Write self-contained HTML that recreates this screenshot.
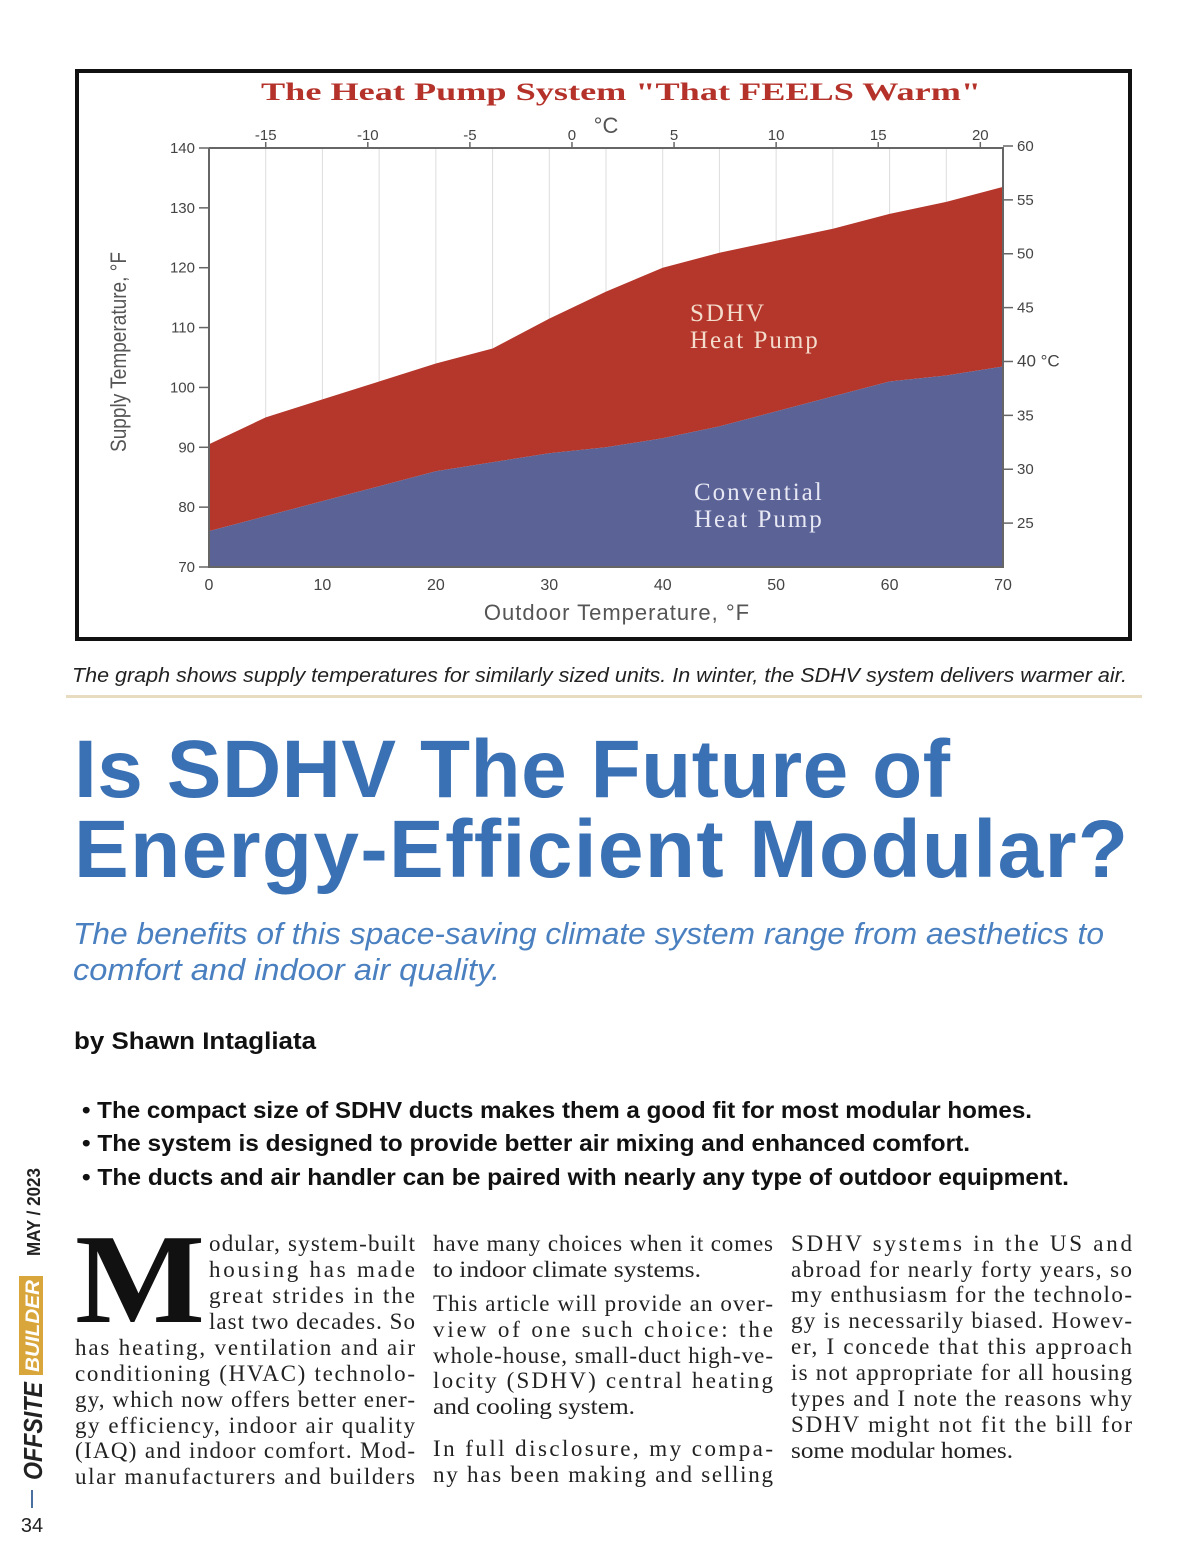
<!DOCTYPE html>
<html><head><meta charset="utf-8"><style>
html,body{margin:0;padding:0;background:#fff;}
svg{display:block;}
.ser{font-family:"Liberation Serif",serif;}
.san{font-family:"Liberation Sans",sans-serif;}
.body{font-family:"Liberation Serif",serif;font-size:23px;fill:#222;}
</style></head><body>
<svg id="page" width="1200" height="1558" viewBox="0 0 1200 1558">
<rect x="0" y="0" width="1200" height="1558" fill="#fff"/>
<g id="chart">
<rect x="77" y="71" width="1053" height="568" fill="#fff" stroke="#111" stroke-width="4"/>
<text x="261" y="100" class="ser" font-size="25" font-weight="bold" fill="#b5322a" textLength="720" lengthAdjust="spacingAndGlyphs">The Heat Pump System "That FEELS Warm"</text>
<text x="606" y="133" text-anchor="middle" class="san" font-size="22" fill="#555">°C</text>
<text x="0" y="0" transform="translate(126,352) rotate(-90)" text-anchor="middle" class="san" font-size="22" fill="#555" textLength="200" lengthAdjust="spacingAndGlyphs">Supply Temperature, °F</text>
<text x="617" y="620" text-anchor="middle" class="san" font-size="22" fill="#555" letter-spacing="1">Outdoor Temperature, °F</text>
<g id="plot"></g>
</g>
<text x="72" y="682" class="san" font-size="20" font-style="italic" fill="#222" textLength="1055" lengthAdjust="spacingAndGlyphs">The graph shows supply temperatures for similarly sized units. In winter, the SDHV system delivers warmer air.</text>
<rect x="66" y="695" width="1076" height="3" fill="#e8dcc0"/>
<text x="74" y="797" class="san" font-size="82" font-weight="bold" fill="#3a70b4" textLength="876">Is SDHV The Future of</text>
<text x="74" y="877" class="san" font-size="82" font-weight="bold" fill="#3a70b4" textLength="1054">Energy-Efficient Modular?</text>
<text x="73" y="944" class="san" font-size="31" font-style="italic" fill="#4a80c0" textLength="1031" lengthAdjust="spacingAndGlyphs">The benefits of this space-saving climate system range from aesthetics to</text>
<text x="73" y="980" class="san" font-size="31" font-style="italic" fill="#4a80c0" textLength="427" lengthAdjust="spacingAndGlyphs">comfort and indoor air quality.</text>
<text x="74" y="1049" class="san" font-size="24" font-weight="bold" fill="#111" textLength="242" lengthAdjust="spacingAndGlyphs">by Shawn Intagliata</text>
<text x="82" y="1118" class="san" font-size="23" font-weight="bold" fill="#111" textLength="950" lengthAdjust="spacingAndGlyphs">• The compact size of SDHV ducts makes them a good fit for most modular homes.</text>
<text x="82" y="1151" class="san" font-size="23" font-weight="bold" fill="#111" textLength="888" lengthAdjust="spacingAndGlyphs">• The system is designed to provide better air mixing and enhanced comfort.</text>
<text x="82" y="1185" class="san" font-size="23" font-weight="bold" fill="#111" textLength="987" lengthAdjust="spacingAndGlyphs">• The ducts and air handler can be paired with nearly any type of outdoor equipment.</text>
<text x="75" y="1322" class="ser" font-size="128" font-weight="bold" fill="#111" textLength="130" lengthAdjust="spacingAndGlyphs">M</text>
<g id="body"></g>
<g>
<text transform="translate(42,1480) rotate(-90)" class="san" font-size="26" font-weight="bold" font-style="italic" fill="#222" textLength="98" lengthAdjust="spacingAndGlyphs">OFFSITE</text>
<rect x="19" y="1276" width="24" height="99" fill="#d9a63c"/>
<text transform="translate(39,1372) rotate(-90)" class="san" font-size="19" font-weight="bold" font-style="italic" fill="#fff" textLength="92" lengthAdjust="spacingAndGlyphs">BUILDER</text>
<text transform="translate(40,1256) rotate(-90)" class="san" font-size="18" font-weight="bold" fill="#222" textLength="88" lengthAdjust="spacingAndGlyphs">MAY / 2023</text>
<rect x="31" y="1490" width="2" height="18" fill="#4a70a0"/>
<text x="32" y="1532" text-anchor="middle" class="san" font-size="20" fill="#222">34</text>
</g>
</svg>
<script>
const NS="http://www.w3.org/2000/svg";
const outdoorF=[0,5,10,15,20,25,30,35,40,45,50,55,60,65,70];
const sdhvSupply=[90.5,95,98,101,104,106.5,111.5,116,120,122.5,124.5,126.5,129,131,133.5];
const convSupply=[76,78.5,81,83.5,86,87.5,89,90,91.5,93.5,96,98.5,101,102,103.5];
const xTicksF=[0,10,20,30,40,50,60,70];
const yTicksF=[70,80,90,100,110,120,130,140];
const topTicksC=[-15,-10,-5,0,5,10,15,20];
const rightTicksC=[60,55,50,45,40,35,30,25];
const X0=209,X1=1003,Y0=567,Y1=148;
const xs=f=>X0+(f-0)/70*(X1-X0);
const ys=v=>Y0-(v-70)/70*(Y0-Y1);
const xc=c=>xs(c*9/5+32);
const yc=c=>ys(c*9/5+32);
const plot=document.getElementById('plot');
function mk(t,a,txt){const e=document.createElementNS(NS,t);for(const k in a)e.setAttribute(k,a[k]);if(txt!==undefined)e.textContent=txt;plot.appendChild(e);return e;}
for(let f=5;f<70;f+=5){const g=mk('line',{x1:xs(f),x2:xs(f),y1:Y1,y2:Y0,stroke:'#ddd','stroke-width':1});

}
function area(top,bot,color,name){let d='M'+xs(outdoorF[0])+','+ys(top[0]);
for(let i=1;i<outdoorF.length;i++)d+='L'+xs(outdoorF[i])+','+ys(top[i]);
for(let i=outdoorF.length-1;i>=0;i--)d+='L'+xs(outdoorF[i])+','+(bot?ys(bot[i]):Y0);
d+='Z';const p=mk('path',{d:d,fill:color});

}
area(sdhvSupply,convSupply,'#b5362b','sdhv-area');
area(convSupply,null,'#5a6296','conventional-area');
const ax=mk('path',{d:`M${X0},${Y1}V${Y0}H${X1}V${Y1}H${X0}`,fill:'none',stroke:'#666','stroke-width':2});


yTicksF.forEach(v=>{mk('line',{x1:X0-10,x2:X0,y1:ys(v),y2:ys(v),stroke:'#666','stroke-width':1.5});
const t=mk('text',{x:X0-14,y:ys(v)+5,'text-anchor':'end','font-family':'Liberation Sans,sans-serif','font-size':15,fill:'#444'},v);

});
xTicksF.forEach(v=>{const t=mk('text',{x:xs(v),y:Y0+23,'text-anchor':'middle','font-family':'Liberation Sans,sans-serif','font-size':16,fill:'#444'},v);

});
topTicksC.forEach(c=>{mk('line',{x1:xc(c),x2:xc(c),y1:Y1-6,y2:Y1,stroke:'#666','stroke-width':1.5});
const t=mk('text',{x:xc(c),y:Y1-8,'text-anchor':'middle','font-family':'Liberation Sans,sans-serif','font-size':15,fill:'#444'},c);

});
rightTicksC.forEach(c=>{mk('line',{x1:X1,x2:X1+10,y1:yc(c)-2,y2:yc(c)-2,stroke:'#666','stroke-width':1.5});
const t=mk('text',{x:X1+14,y:yc(c)+3,'font-family':'Liberation Sans,sans-serif','font-size':c===40?17:15,fill:'#444'},c===40?'40 °C':c);

});
[['SDHV',321],['Heat Pump',348]].forEach(([s,y])=>{const t=mk('text',{x:690,y:y,'font-family':'Liberation Serif,serif','font-size':25,fill:'#f3dccb','letter-spacing':2},s);

});
[['Convential',500],['Heat Pump',527]].forEach(([s,y])=>{const t=mk('text',{x:694,y:y,'font-family':'Liberation Serif,serif','font-size':25,fill:'#e8e8f4','letter-spacing':2},s);

});
const body=document.getElementById('body');
const cols=[
 {x:75,w:340,lines:[[209,1251,"odular, system-built"],[209,1277,"housing has made"],[209,1303,"great strides in the"],[209,1329,"last two decades. So"],[75,1355,"has heating, ventilation and air"],[75,1381,"conditioning (HVAC) technolo-"],[75,1407,"gy, which now offers better ener-"],[75,1433,"gy efficiency, indoor air quality"],[75,1458,"(IAQ) and indoor comfort. Mod-"],[75,1484,"ular manufacturers and builders"]]},
 {x:433,w:340,lines:[[433,1251,"have many choices when it comes"],[433,1277,"to indoor climate systems.",268],[433,1311,"This article will provide an over-"],[433,1337,"view of one such choice: the"],[433,1363,"whole-house, small-duct high-ve-"],[433,1388,"locity (SDHV) central heating"],[433,1414,"and cooling system.",202],[433,1456,"In full disclosure, my compa-"],[433,1482,"ny has been making and selling"]]},
 {x:791,w:341,lines:[[791,1251,"SDHV systems in the US and"],[791,1277,"abroad for nearly forty years, so"],[791,1302,"my enthusiasm for the technolo-"],[791,1328,"gy is necessarily biased. Howev-"],[791,1354,"er, I concede that this approach"],[791,1380,"is not appropriate for all housing"],[791,1406,"types and I note the reasons why"],[791,1432,"SDHV might not fit the bill for"],[791,1458,"some modular homes.",222]]}
];
cols.forEach(c=>c.lines.forEach(l=>{const t=document.createElementNS(NS,'text');
t.setAttribute('x',l[0]);t.setAttribute('y',l[1]);t.setAttribute('class','body');
t.setAttribute('textLength',l[3]?l[3]:c.x+c.w-l[0]);
t.setAttribute('lengthAdjust',l[3]?'spacingAndGlyphs':'spacing');
t.textContent=l[2];


body.appendChild(t);}));
</script>
</body></html>
